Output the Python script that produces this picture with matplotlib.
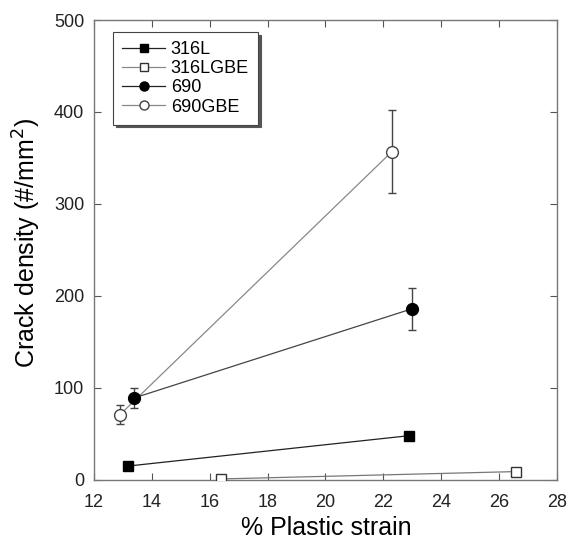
import matplotlib.pyplot as plt
from matplotlib.lines import Line2D

plt.rcParams['font.family'] = ['Liberation Sans', 'DejaVu Sans']

# 数据
strain_316l = [13.17, 22.88]
density_316l = [15, 48]

strain_316lgbe = [16.39, 26.58]
density_316lgbe = [1, 9]
err_316lgbe = [0, 3]

strain_690 = [13.38, 22.99]
density_690 = [89, 186]
err_690 = [11, 23]

strain_690gbe = [12.9, 22.3]
density_690gbe = [71, 357]
err_690gbe = [10, 45]

fig = plt.figure(figsize=(5.7, 5.41), dpi=100)
ax = fig.add_axes([0.165, 0.113, 0.812, 0.850])

ax.plot(strain_316l, density_316l, color='#222222', lw=0.9, marker='s', ms=7.5,
        mfc='black', mec='black', zorder=3)
ax.errorbar(strain_316lgbe, density_316lgbe, yerr=err_316lgbe, color='#777777', lw=0.9,
            marker='s', ms=7.5, mfc='white', mec='#333333', ecolor='#333333',
            capsize=2.5, elinewidth=1, zorder=3)
ax.errorbar(strain_690, density_690, yerr=err_690, color='#444444', lw=0.9,
            marker='o', ms=8.5, mfc='black', mec='black', ecolor='#444444',
            capsize=3, elinewidth=1, zorder=4)
ax.errorbar(strain_690gbe, density_690gbe, yerr=err_690gbe, color='#888888', lw=0.9,
            marker='o', ms=8.5, mfc='white', mec='#444444', ecolor='#444444',
            capsize=3, elinewidth=1, zorder=3)

ax.set_xlim(12, 28)
ax.set_ylim(0, 500)
ax.set_xticks(range(12, 29, 2))
ax.set_yticks(range(0, 501, 100))
ax.tick_params(direction='in', top=True, right=True, labelsize=13, length=5,
               color='#555555', labelcolor='#222222')
ax.tick_params(axis='x', pad=10)
ax.tick_params(axis='y', pad=7)
for s in ax.spines.values():
    s.set_color('#777777')
    s.set_linewidth(1)

ax.set_xlabel('% Plastic strain', fontsize=18)
ax.set_ylabel('Crack density (#/mm$^2$)', fontsize=18)
ax.xaxis.set_label_coords(0.501, -0.078)
ax.yaxis.set_label_coords(-0.11, 0.515)

handles = [
    Line2D([], [], color='#222222', lw=0.9, marker='s', ms=6, mfc='black', mec='black'),
    Line2D([], [], color='#888888', lw=0.9, marker='s', ms=6, mfc='white', mec='#333333'),
    Line2D([], [], color='#222222', lw=0.9, marker='o', ms=6.5, mfc='black', mec='black'),
    Line2D([], [], color='#888888', lw=0.9, marker='o', ms=6.5, mfc='white', mec='#444444'),
]
labels = ['316L', '316LGBE', '690', '690GBE']
leg = ax.legend(handles, labels, loc='upper left', bbox_to_anchor=(0.041, 0.974), fontsize=13,
                fancybox=False, shadow={'color': '#555555', 'alpha': 1}, framealpha=1,
                edgecolor='#444444', handlelength=2.4, borderpad=0.5, labelspacing=0.12,
                handletextpad=0.3, borderaxespad=0)
leg.get_frame().set_linewidth(0.8)

plt.savefig('out.png', dpi=100)
